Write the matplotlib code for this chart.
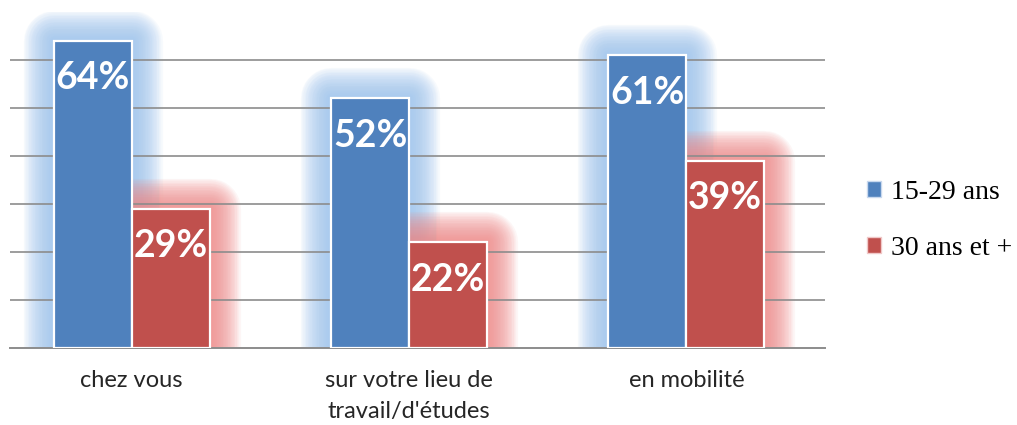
import numpy as np
import matplotlib.pyplot as plt
from matplotlib.patches import Patch

# data
categories = ["chez vous", "sur votre lieu de\ntravail/d'études", "en mobilité"]
young = [64, 52, 61]
older = [29, 22, 39]
series_names = ["15-29 ans", "30 ans et +"]

BLUE = "#4F81BD"
RED = "#C0504D"
BLUE_GLOW = "#9CC4EE"
RED_GLOW = "#F08A88"

fig = plt.figure(figsize=(10.17, 4.25), dpi=100)
ax = fig.add_axes([10 / 1017, 77 / 425, 815 / 1017, 336 / 425])

x = np.arange(len(categories))
w = 0.281

# soft glow behind the bars: stacked translucent thick edges
for vals, offs, gcol in [(young, -w / 2, BLUE_GLOW), (older, w / 2, RED_GLOW)]:
    for lw in np.linspace(44, 2, 22):
        ax.bar(x + offs, vals, w, color="none", edgecolor=gcol, linewidth=lw,
               alpha=0.075, joinstyle="round", zorder=1)

b1 = ax.bar(x - w / 2, young, w, color=BLUE, edgecolor="white", linewidth=1.6, zorder=2)
b2 = ax.bar(x + w / 2, older, w, color=RED, edgecolor="white", linewidth=1.6, zorder=2)

for bars, vals in [(b1, young), (b2, older)]:
    for rect, v in zip(bars, vals):
        ax.annotate(f"{v}%", (rect.get_x() + rect.get_width() / 2, v),
                    xytext=(0, -27), textcoords="offset points",
                    ha="center", va="center", color="white",
                    fontsize=27, fontweight="bold", family="Lato", zorder=3)

ax.set_xlim(-0.439, 2.5)
ax.set_ylim(0, 70)
ax.set_yticks(range(10, 70, 10))
ax.set_axisbelow("line")
ax.grid(axis="y", color="#8C8C8C", linewidth=1.2)
ax.axhline(0, color="#8C8C8C", linewidth=1.4, clip_on=False, zorder=1.5)
ax.tick_params(axis="y", length=0, labelleft=False)
ax.set_xticks(x)
ax.set_xticklabels(categories, fontsize=17, family="Lato", color="#262626",
                   linespacing=1.55)
ax.tick_params(axis="x", length=0, pad=16)
for s in ax.spines.values():
    s.set_visible(False)

handles = [Patch(facecolor=BLUE, edgecolor="#C8D8EE"), Patch(facecolor=RED, edgecolor="#F0C8C8")]
fig.legend(handles, series_names, loc="upper left", bbox_to_anchor=(842 / 1017, 1 - 155 / 425),
           frameon=False, prop={"family": "Liberation Serif", "size": 20},
           handlelength=0.5, handleheight=0.5, handletextpad=0.35, labelspacing=1.1)

fig.savefig("out.png", dpi=100)
